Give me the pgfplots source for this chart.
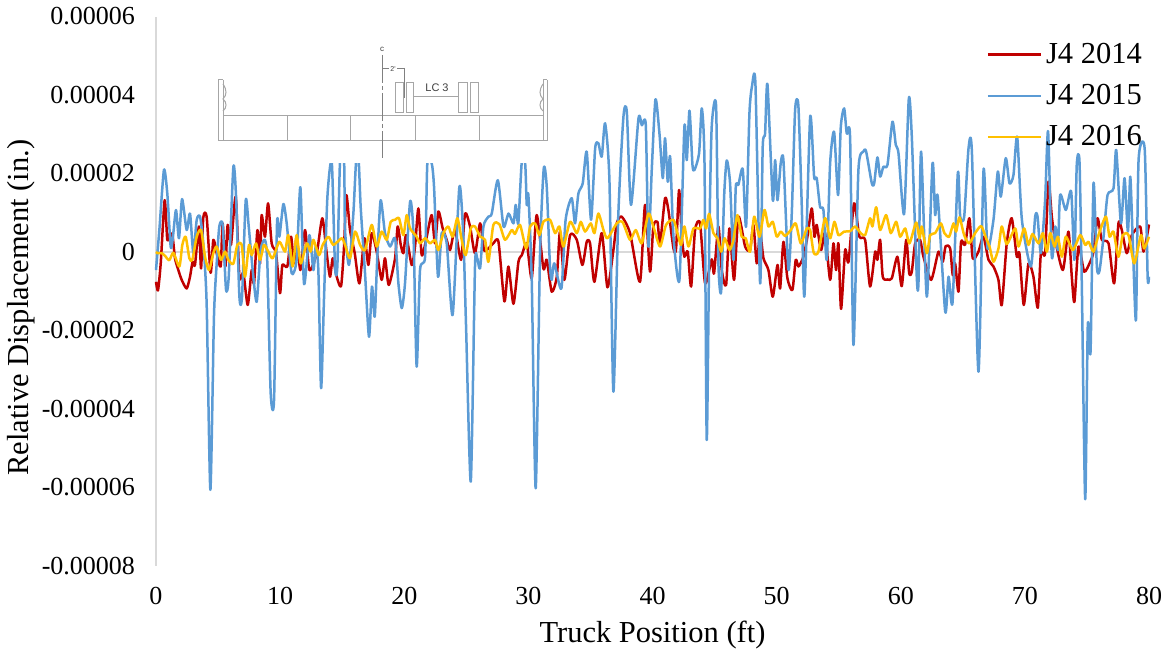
\documentclass[border=0pt]{standalone}
\usepackage{fontspec}
\setmainfont{Liberation Serif}
\newfontfamily\insetfont{Liberation Sans}
\usepackage{pgfplots}
\pgfplotsset{compat=1.18}
\definecolor{jred}{HTML}{C00000}
\definecolor{jblue}{HTML}{5B9BD5}
\definecolor{jyellow}{HTML}{FFC000}
\definecolor{axgray}{HTML}{D9D9D9}
\definecolor{inset}{HTML}{A6A6A6}
\begin{document}
\begin{tikzpicture}[x=1pt,y=1pt]
\useasboundingbox (0,0) rectangle (586,325.5);
\begin{axis}[
at={(78pt,42.5pt)},anchor=south west,
scale only axis,
width=496.5pt,height=274.75pt,
xmin=0,xmax=80,ymin=-8,ymax=6,
axis x line=bottom,axis y line=left,
x axis line style={draw=none},
y axis line style={draw=axgray,line width=1.1pt,-},
major tick length=0pt,
clip=false,
xtick={0,10,...,80},
ytick={-8,-6,...,6},
yticklabels={-0.00008,-0.00006,-0.00004,-0.00002,0,0.00002,0.00004,0.00006},
/pgf/number format/assume math mode=true,
tick label style={font=\fontsize{13}{15}\selectfont},
xticklabel style={yshift=-7pt},
yticklabel style={xshift=-7pt},
xlabel={Truck Position (ft)},
ylabel={Relative Displacement (in.)},
label style={font=\fontsize{15.25}{18}\selectfont},
xlabel style={at={(axis description cs:0.5,0)},anchor=north,yshift=-24pt},
ylabel style={at={(axis description cs:0,0.47)},anchor=south,yshift=57pt},
legend style={draw=none,fill=none,at={(0.836,0.96)},anchor=north west,
  font=\fontsize{15.25}{18}\selectfont,row sep=5pt,inner sep=0pt},
legend cell align=left,
legend image code/.code={\draw[#1] (0pt,0pt) -- (26.5pt,0pt);},
every axis plot/.append style={smooth,tension=0.4,line width=1.25pt,line join=round},
]
\addplot[axgray,line width=1pt,forget plot] coordinates {(0,0)(80,0)};
% 2014
\addplot[jred] coordinates {
(0,-.76)(.16,-.98)(.38,-.29)(.70,1.32)(.91,.31)(1.13,.48)(1.34,.39)(1.53,-.16)(1.80,-.46)(2.07,-.71)
(2.47,-.93)(2.74,-.63)(2.95,-.25)(3.14,-.33)(3.46,.65)(3.63,-.42)(3.81,.88)(4.08,.90)(4.40,-.53)(4.62,.31)
(4.89,-.03)(5.21,-.37)(5.37,.73)(5.59,-.37)(5.77,.69)(6.04,.18)(6.42,1.41)(6.72,-.63)(7.04,-.54)(7.39,-1.35)
(7.71,-.46)(7.90,-.80)(8.17,.56)(8.38,-.29)(8.51,.94)(8.78,.39)(9.03,1.24)(9.32,.22)(9.67,-.03)(9.99,-1.05)
(10.18,-.33)(10.58,-.37)(10.88,.39)(11.12,-.29)(11.33,.39)(11.63,-.46)(12.01,.56)(12.36,-.46)(12.95,-.03)(13.40,.86)
(13.75,-.03)(14.02,-.63)(14.24,-.16)(14.56,-.63)(14.91,-.87)(15.15,.14)(15.34,1.45)(15.63,.56)(16.01,-.03)(16.39,-.80)
(16.79,.35)(17.11,-.33)(17.38,.48)(17.78,.01)(18.18,-.71)(18.45,-.16)(18.75,-.84)(19.26,-.16)(19.47,.65)(19.72,.18)
(19.93,-.03)(20.15,.43)(20.60,-.33)(20.87,.14)(21.14,1.11)(21.41,-.08)(21.81,.39)(22.21,.94)(22.48,.22)(22.75,1.03)
(23.10,.60)(23.42,.31)(23.69,.05)(24.09,.56)(24.58,-.20)(24.90,.98)(25.30,.65)(25.70,-.03)(26.11,.73)(26.43,.05)
(26.78,.09)(27.18,.22)(27.59,.26)(28.07,-1.26)(28.39,-.37)(28.80,-1.32)(29.20,-.25)(29.47,-.08)(29.87,.22)(30.27,-.67)
(30.67,.94)(31.21,-.42)(31.48,-.20)(31.88,-1.01)(32.29,-.63)(32.55,.52)(32.90,-.71)(33.36,.43)(33.90,.31)(34.35,-.33)
(34.70,.26)(34.97,.22)(35.32,-.76)(35.91,.48)(36.37,-.90)(36.85,.05)(37.12,.73)(37.52,.90)(38.19,.48)(38.99,-.76)
(39.40,1.20)(39.80,-.50)(40.07,.65)(40.40,.77)(40.61,.22)(41.01,1.37)(41.28,1.07)(41.69,.09)(41.90,.09)(42.14,1.58)
(42.36,.39)(42.57,-.12)(42.84,.01)(43.11,-.88)(43.43,.56)(43.83,.73)(44.24,-.80)(44.77,-.19)(44.96,-.54)(45.31,.65)
(45.58,-.46)(45.93,-.84)(46.20,.60)(46.57,-.71)(46.92,.90)(47.46,.14)(47.86,.05)(48.13,.69)(48.40,-.29)(48.67,.48)
(48.94,-.16)(49.34,-.46)(49.69,-1.14)(50.07,-.33)(50.28,-.93)(50.55,.26)(50.87,-.67)(51.27,-.97)(51.54,-.20)(51.76,-.37)
(52.16,-.12)(52.48,.39)(52.83,1.11)(53.05,.39)(53.23,.69)(53.58,.05)(53.90,.48)(54.31,-.71)(54.58,.22)(54.79,-.46)
(54.98,.22)(55.19,-1.45)(55.52,.05)(55.79,-.25)(56.24,1.24)(56.67,.39)(57.13,.31)(57.53,-.88)(57.94,.01)(58.12,-.20)
(58.34,.31)(58.55,-.63)(58.93,-.70)(59.28,-.67)(59.73,-.12)(60.08,-.87)(60.44,.31)(60.68,-.54)(60.89,-.50)(61.16,.22)
(61.56,.31)(61.83,-.12)(62.45,-.71)(63.04,.01)(63.38,-.25)(63.62,.15)(63.98,.09)(64.19,-.59)(64.38,-.29)(64.65,-1.01)
(64.86,.26)(65.18,.18)(65.53,.86)(65.80,-.16)(66.26,.01)(66.66,.39)(67.07,-.20)(67.47,-.37)(67.87,-.71)(68.14,-1.35)
(68.54,.22)(68.94,.86)(69.35,-.12)(69.56,-.03)(69.91,-1.35)(70.29,-.29)(70.69,-.63)(71.04,-1.42)(71.29,-.03)(71.63,-.03)
(71.90,1.79)(72.17,.90)(72.44,.31)(73.06,-.46)(73.51,.52)(73.78,-.63)(73.99,-1.27)(74.32,.14)(74.78,-.50)(75.26,-.25)
(75.53,.01)(75.85,.86)(76.20,.31)(76.74,.22)(77.19,-.80)(77.54,.73)(77.81,.56)(78.21,-.03)(78.62,.43)(79.29,.65)
(79.56,.01)(80,.70)
};
\addlegendentry{J4 2014}
% 2015
\addplot[jblue] coordinates {
(0,-.46)(.27,.56)(.64,2.09)(.91,1.49)(1.18,.14)(1.34,.31)(1.61,1.07)(1.85,.35)(2.10,1.35)(2.47,.56)
(2.74,.98)(3.01,-.03)(3.28,.82)(3.55,.90)(3.81,.22)(4.08,-1.31)(4.38,-6.06)(4.67,-1.65)(4.89,-.29)(5.10,.65)
(5.37,.69)(5.64,-.95)(5.86,-.63)(6.23,2.16)(6.45,1.41)(6.72,-1.14)(6.93,-1.14)(7.23,1.32)(7.47,.65)(7.79,-.46)
(8.11,-1.27)(8.43,.05)(8.78,.31)(8.97,-.29)(9.24,-3.60)(9.51,-3.77)(9.75,.73)(9.94,.39)(10.26,1.22)(10.53,.73)
(10.93,-.54)(11.33,-.20)(11.63,1.65)(11.93,-.82)(12.36,.43)(12.68,-.46)(12.87,.14)(13.08,-.46)(13.30,-3.47)(13.54,-1.14)
(13.81,1.41)(14.16,2.30)(14.42,-.37)(14.61,-.37)(14.83,2.34)(15.15,2.34)(15.23,.56)(15.55,-.33)(15.90,.98)(16.12,2.30)
(16.33,2.30)(16.49,1.15)(16.84,-.54)(17.16,-2.16)(17.40,-.88)(17.62,-1.65)(17.83,-.12)(18.10,1.32)(18.45,.48)(18.86,.14)
(19.26,.35)(19.53,-.80)(19.80,-1.43)(20.06,-.80)(20.47,1.28)(20.74,.48)(21.00,-2.92)(21.27,-.46)(21.68,-.12)(21.86,2.26)
(22.21,2.26)(22.40,1.66)(22.72,-.63)(23.02,.48)(23.42,.22)(23.90,-1.60)(24.44,1.66)(24.76,.39)(24.98,-1.90)(25.36,-5.85)
(25.70,-.37)(25.88,-.16)(26.11,-.42)(26.38,.65)(26.78,.90)(27.05,.98)(27.54,1.83)(28.00,.65)(28.40,.98)(28.80,.73)
(28.98,1.20)(29.19,.73)(29.46,2.26)(29.74,2.26)(29.87,1.20)(30.00,1.45)(30.27,-.71)(30.59,-6.02)(30.94,-.03)(31.24,2.13)
(31.48,1.66)(31.74,-.37)(31.88,-.71)(32.09,-.29)(32.66,-.93)(33.00,.82)(33.49,1.37)(33.76,.73)(34.03,1.49)(34.38,1.75)
(34.70,2.56)(35.05,.82)(35.38,2.64)(35.64,2.77)(35.91,2.43)(36.18,3.28)(36.53,1.83)(36.85,-3.56)(37.25,.98)(37.66,3.45)
(37.93,3.57)(38.27,1.20)(38.87,3.40)(39.14,3.23)(39.46,3.23)(39.67,.14)(39.94,2.09)(40.24,3.89)(40.56,3.02)(40.83,1.88)
(41.01,2.90)(41.23,1.79)(41.42,2.43)(41.69,.39)(42.17,-.71)(42.57,3.19)(42.76,2.34)(42.98,3.60)(43.22,2.22)(43.38,2.09)
(43.75,2.51)(43.97,3.66)(44.19,2.26)(44.37,-4.79)(44.58,.39)(44.77,3.19)(45.12,3.74)(45.31,-.29)(45.53,-1.01)(45.77,1.41)
(45.98,2.33)(46.25,1.75)(46.52,-.20)(46.71,1.66)(46.92,1.71)(47.27,2.11)(47.54,.65)(47.81,3.53)(48.02,4.23)(48.29,4.30)
(48.67,-.80)(48.88,2.68)(49.07,3.02)(49.26,4.28)(49.69,1.32)(49.88,2.34)(50.07,1.32)(50.33,2.26)(50.55,2.33)(50.95,-.46)
(51.22,.98)(51.49,3.62)(51.75,3.74)(52.02,1.24)(52.24,-1.12)(52.70,3.43)(53.02,1.92)(53.23,1.88)(53.50,1.15)(53.77,1.07)
(54.04,-.20)(54.31,2.26)(54.63,3.06)(54.95,1.45)(55.17,3.19)(55.44,3.66)(55.65,3.02)(55.92,2.90)(56.19,-2.37)(56.59,2.09)
(56.99,2.56)(57.21,2.56)(57.67,1.75)(57.86,1.75)(58.12,2.41)(58.34,1.92)(58.60,2.17)(58.93,2.22)(59.33,3.32)(59.60,2.73)
(59.82,2.51)(60.27,.97)(60.65,3.91)(60.89,2.94)(61.29,-.63)(61.43,-.76)(61.64,2.56)(62.10,-1.14)(62.56,2.26)(62.77,.94)
(62.98,1.41)(63.58,-1.52)(63.85,-.63)(64.17,-1.29)(64.60,2.02)(64.79,.90)(65.11,.90)(65.46,2.64)(65.73,2.56)(66.26,-3.05)
(66.67,2.09)(66.99,.09)(67.47,.82)(67.82,2.05)(68.06,1.41)(68.46,2.39)(68.76,1.75)(69.08,1.96)(69.38,2.94)(69.76,.82)
(70.48,-.37)(70.83,.90)(71.02,.90)(71.29,-.03)(71.63,1.32)(71.87,3.07)(72.17,-.12)(72.45,.65)(72.66,.05)(72.84,1.45)
(73.30,1.07)(73.73,1.54)(73.99,-.20)(74.18,2.22)(74.40,2.30)(74.59,-.88)(74.86,-6.30)(75.07,-1.86)(75.29,-2.54)(75.53,1.75)
(75.80,-.37)(76.01,-.48)(76.34,.39)(76.66,1.45)(77.14,1.62)(77.36,2.60)(77.74,.73)(78.03,1.88)(78.30,.52)(78.49,1.92)
(78.68,.39)(78.95,-1.73)(79.16,2.34)(79.65,2.64)(79.89,-.63)(80,-.63)
};
\addlegendentry{J4 2015}
% 2016
\addplot[jyellow] coordinates {
(0,0)(.11,-.03)(.46,-.03)(.73,-.10)(1.07,-.21)(1.40,-.02)(1.88,-.37)(2.12,.18)(2.39,.39)(2.69,-.16)
(2.93,-.20)(3.28,.39)(3.63,.56)(3.95,-.12)(4.27,-.46)(4.62,-.03)(4.89,.14)(5.24,-.20)(5.56,.01)(5.83,-.20)
(6.23,-.30)(6.55,.18)(6.90,.18)(7.17,-.63)(7.49,.18)(7.71,-.08)(8.06,.22)(8.38,-.20)(8.70,.18)(9.05,.01)
(9.40,-.16)(9.94,.26)(10.39,.01)(10.66,.43)(11.01,-.37)(11.33,.43)(11.66,-.29)(12.14,.22)(12.46,.01)(12.68,.31)
(13.13,-.08)(13.43,.18)(13.89,.39)(14.29,.18)(14.96,.35)(15.23,.18)(15.63,-.16)(16.04,.52)(16.44,.18)(16.84,.05)
(17.38,.69)(17.78,.14)(18.18,.52)(18.59,.31)(18.91,.77)(19.26,.82)(19.58,.86)(19.93,.43)(20.20,.94)(20.47,.60)
(21.00,.39)(21.27,.22)(21.68,.35)(22.08,.22)(22.48,.31)(22.75,.05)(23.15,.48)(23.55,.65)(23.90,.39)(24.28,.86)
(24.63,.31)(24.95,-.08)(25.36,.60)(25.70,.65)(26.11,.39)(26.51,.31)(26.78,-.25)(27.18,.69)(27.66,.71)(28.12,.31)
(28.66,.56)(28.92,.46)(29.33,.69)(29.82,.09)(30.14,.65)(30.54,.73)(30.89,.43)(31.21,.77)(31.75,.82)(32.15,.48)
(32.50,.65)(32.82,.14)(33.36,.77)(33.90,.48)(34.22,.77)(34.57,.52)(35.03,.73)(35.32,.48)(35.64,.98)(36.05,.56)
(36.37,.35)(37.12,.73)(37.58,.77)(38.19,.31)(38.65,.56)(39.14,.22)(39.67,.98)(40.07,.65)(40.61,.14)(41.09,.69)
(41.69,.82)(42.01,.48)(42.30,.18)(42.57,.65)(42.90,.14)(43.30,.60)(43.83,.60)(44.10,.82)(44.32,.60)(44.56,.97)
(44.91,.48)(45.23,.35)(45.53,.01)(45.82,.35)(46.20,.05)(46.52,.31)(46.84,.94)(47.19,.39)(47.51,.35)(47.86,.01)
(48.19,.90)(48.62,.39)(49.02,1.07)(49.34,.65)(49.69,.77)(50.01,.39)(50.33,.52)(50.69,.41)(51.14,.56)(51.54,.73)
(51.95,.22)(52.43,.60)(52.70,.56)(52.99,-.02)(53.37,.01)(53.90,.86)(54.31,.35)(54.66,.77)(54.98,.43)(55.44,.52)
(55.92,.53)(56.32,.65)(56.78,.48)(57.13,.43)(57.53,.86)(57.72,.65)(58.02,1.14)(58.34,.56)(58.82,.94)(59.20,.48)
(59.63,.77)(59.95,.39)(60.36,.60)(60.70,.22)(61.24,.75)(61.51,.35)(61.70,.65)(62.10,-.03)(62.37,.43)(62.77,.48)
(63.23,.73)(63.52,.48)(63.90,.39)(64.25,.73)(64.46,.52)(64.73,.88)(65.11,.43)(65.51,.22)(65.99,.48)(66.48,.66)
(66.88,.35)(67.15,.14)(67.47,-.25)(67.87,.09)(68.14,.65)(68.54,.20)(69.22,.60)(69.49,.14)(69.94,.60)(70.29,.18)
(70.61,.46)(71.10,.22)(71.45,.48)(71.77,.01)(72.04,.48)(72.39,.14)(72.66,.39)(72.98,-.12)(73.30,.39)(73.87,.05)
(74.46,.43)(74.86,.18)(75.13,.26)(75.53,.01)(75.93,.43)(76.52,.90)(76.82,.39)(77.14,.52)(77.54,-.12)(77.89,.43)
(78.35,.43)(78.81,-.29)(79.35,.43)(79.61,.09)(80,.39)
};
\addlegendentry{J4 2016}
\end{axis}
% bridge section sketch, in reference pixels
\begin{scope}[x=0.5pt,y=-0.5pt,yshift=325.5pt,draw=inset,line width=0.5pt]
\fill[white] (216,40) rectangle (551,163);
\draw (218,141) -- (547,141);
\draw (223,116) -- (543,116);
\draw (218,80) -- (218,141) (223,80) -- (223,141) (218,80) -- (223,80);
\draw (547,80) -- (547,141) (543,80) -- (543,141) (543,80) -- (547,80);
\draw (223,84) .. controls (227,90) and (227,95) .. (223,99) .. controls (227,102) and (227,108) .. (223,111);
\draw (543,84) .. controls (539,90) and (539,95) .. (543,99) .. controls (539,102) and (539,108) .. (543,111);
\draw (287,116) -- (287,141) (350,116) -- (350,141) (415,116) -- (415,141) (479,116) -- (479,141);
\draw[draw=gray,dash pattern=on 14pt off 1.5pt on 2pt off 1.5pt] (382,55) -- (382,158);
\draw (395,83) rectangle (403,113) (406,83) rectangle (413,113);
\draw (458,83) rectangle (467,113) (470,83) rectangle (478,113);
\draw (413,97) -- (458,97);
\draw[draw=gray] (404,68) -- (404,98);
\draw[draw=gray] (382,69) -- (389,69) (397,69) -- (404,69);
\node[text=black!75,font=\insetfont\fontsize{5.5}{6}\selectfont,inner sep=0pt] at (437,88) {LC 3};
\node[text=black!75,font=\insetfont\fontsize{3.5}{4}\selectfont,inner sep=0pt] at (393,69) {2'};
\node[text=black!75,font=\insetfont\fontsize{4}{4}\selectfont,inner sep=0pt] at (382,49) {c};
\end{scope}
\end{tikzpicture}
\end{document}
